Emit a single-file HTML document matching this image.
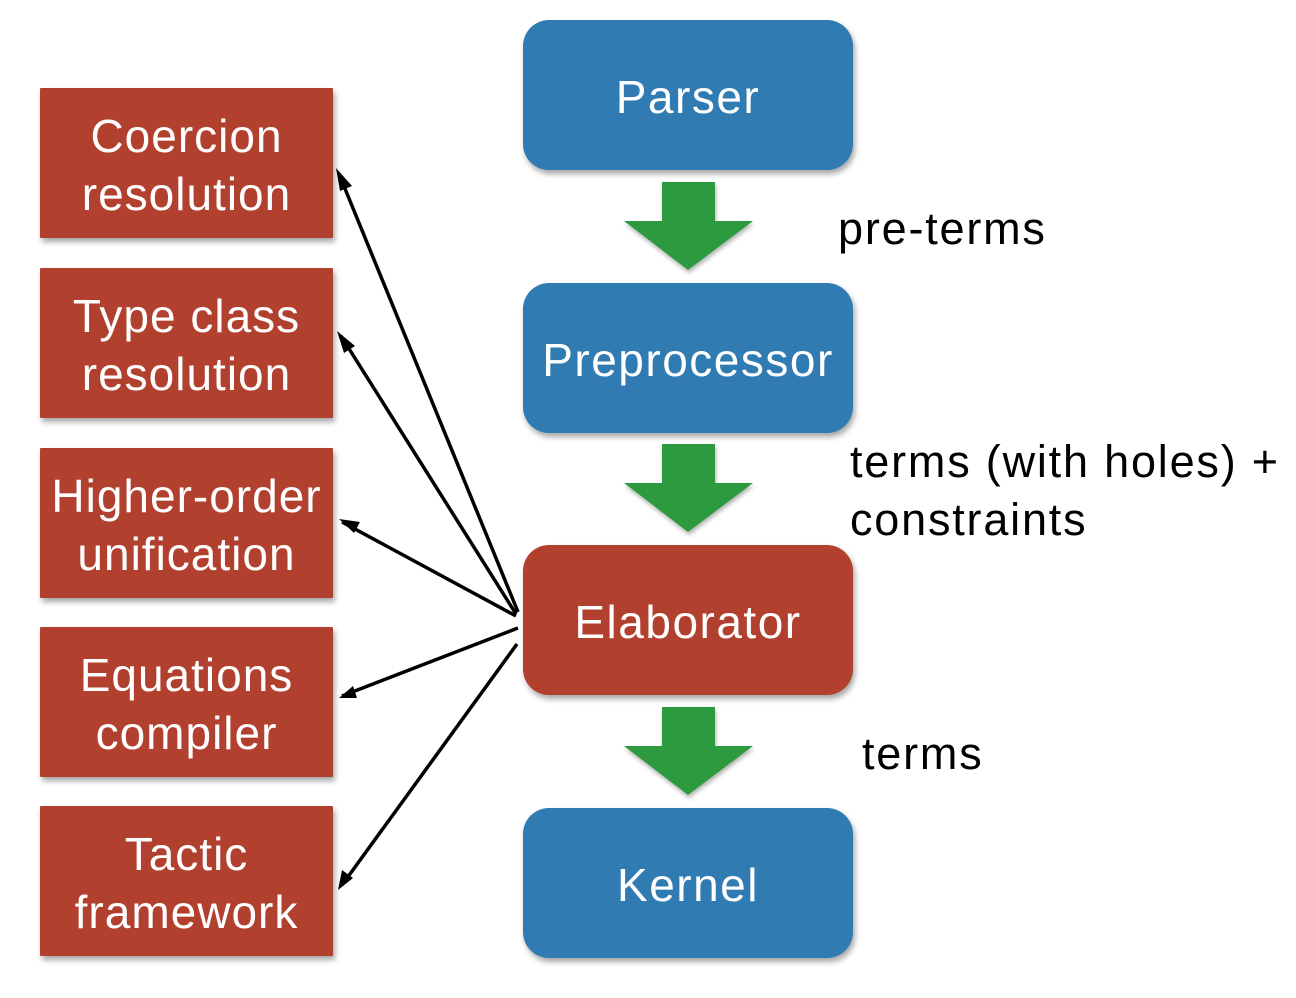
<!DOCTYPE html>
<html><head><meta charset="utf-8"><style>
body{margin:0;width:1296px;height:998px;background:#fff;overflow:hidden;position:relative;font-family:"Liberation Sans",sans-serif;}
.b{position:absolute;color:#fff;display:flex;align-items:center;justify-content:center;text-align:center;box-shadow:2px 4px 6px rgba(0,0,0,0.35);padding-top:4px;box-sizing:border-box;}
.blue{background:#2f7bb2;border-radius:26px;left:523px;width:330px;height:150px;font-size:46px;letter-spacing:1.5px;}
.red{background:#b2402f;}
.left{left:40px;width:293px;height:150px;font-size:46px;letter-spacing:1px;line-height:58px;border-radius:1px;}
.t{position:absolute;font-size:45px;letter-spacing:1.8px;color:#000;line-height:58px;}
</style></head><body>
<div class="b left red" style="top:88px">Coercion<br>resolution</div>
<div class="b left red" style="top:268px">Type class<br>resolution</div>
<div class="b left red" style="top:448px">Higher-order<br>unification</div>
<div class="b left red" style="top:627px">Equations<br>compiler</div>
<div class="b left red" style="top:806px">Tactic<br>framework</div>
<div class="b blue" style="top:20px">Parser</div>
<div class="b blue" style="top:283px">Preprocessor</div>
<div class="b blue red" style="top:545px">Elaborator</div>
<div class="b blue" style="top:808px">Kernel</div>
<div class="t" style="left:838px;top:200px">pre-terms</div>
<div class="t" style="left:850px;top:433px">terms (with holes) +<br>constraints</div>
<div class="t" style="left:862px;top:725px">terms</div>
<svg width="1296" height="998" style="position:absolute;left:0;top:0">
<defs><filter id="s"><feDropShadow dx="1" dy="3" stdDeviation="2" flood-opacity="0.3"/></filter></defs>
<g fill="#2e9a3f" filter="url(#s)">
<path d="M662,182H715V221H753L688,270L624,221H662Z"/>
<path d="M662,444H715V483H753L688,532L624,483H662Z"/>
<path d="M662,707H715V746H753L688,795L624,746H662Z"/>
</g>
<g stroke="#000" stroke-width="3.5" fill="none">
<line x1="518" y1="612" x2="339" y2="174"/>
<line x1="516" y1="614" x2="341" y2="336"/>
<line x1="516" y1="616" x2="342" y2="522"/>
<line x1="518" y1="628" x2="342" y2="696"/>
<line x1="517" y1="644" x2="342" y2="885"/>
</g>
<g fill="#000">
<path d="M336,168L352,186L340,191Z"/>
<path d="M337,331L355,346L344,353Z"/>
<path d="M339,519L360,522L354,533Z"/>
<path d="M339,698L353,686L357,698Z"/>
<path d="M338,890L342,870L353,878Z"/>
</g>
</svg>
</body></html>
